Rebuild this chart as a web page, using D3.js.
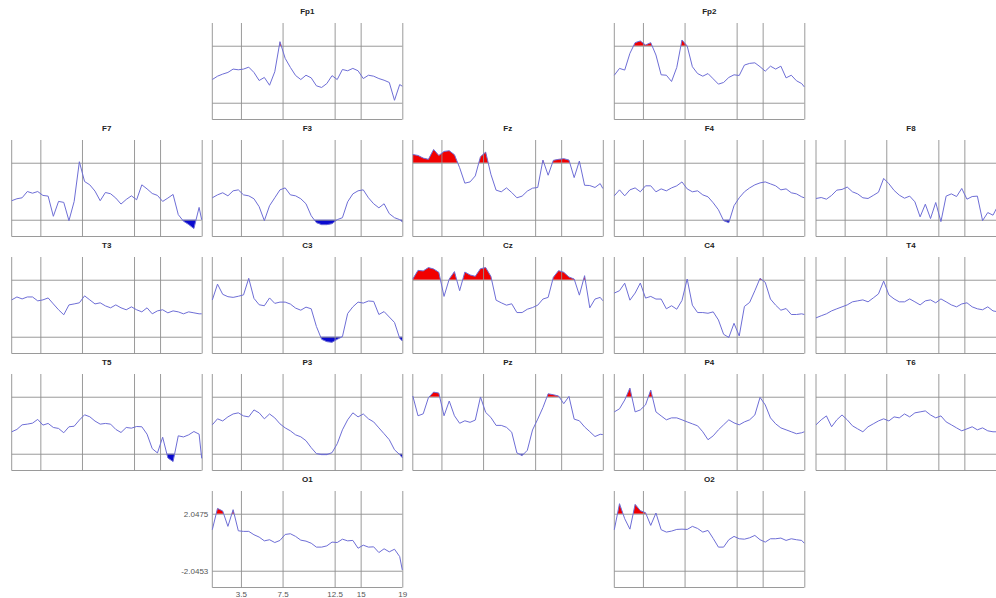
<!DOCTYPE html>
<html>
<head>
<meta charset="utf-8">
<script src="https://cdn.jsdelivr.net/npm/d3@7"></script>
<style>
  body { margin: 0; background: #fff; overflow: hidden; }
  svg { display: block; }
</style>
</head>
<body>
<script>
(function () {
    // frequency bins (Hz) shared by every channel
    var freqs = [0.75, 1.25, 1.75, 2.25, 2.75, 3.25, 3.75, 4.25, 4.75, 5.25, 5.75, 6.25, 6.75,
        7.25, 7.75, 8.25, 8.75, 9.25, 9.75, 10.25, 10.75, 11.25, 11.75, 12.25, 12.75, 13.25,
        13.75, 14.25, 14.75, 15.25, 15.75, 16.25, 16.75, 17.25, 17.75, 18.25, 18.75, 19];

    var xTicks = [3.5, 7.5, 12.5, 15, 19];
    var xTickLabels = ["3.5", "7.5", "12.5", "15", "19"];
    var thresholds = [2.0475, -2.0453];
    var thresholdLabels = ["2.0475", "-2.0453"];

    var fp1 = [-0.38, -0.14, 0.01, 0.13, 0.37, 0.32, 0.37, 0.51, 0.13, -0.45, -0.23, -0.79, 0.18, 2.34, 1.14, 0.49, -0.09, -0.38, -0.07, -0.26, -0.83, -0.95, -0.67, -0.10, -0.38, 0.34, 0.25, 0.42, 0.25, -0.31, -0.07, -0.14, -0.31, -0.43, -0.59, -1.87, -0.74, -0.86];
    var fp2 = [-0.07, 0.42, 0.30, 1.50, 2.27, 2.39, 2.10, 2.27, 1.38, -0.04, -0.07, -0.52, 0.49, 2.46, 2.03, 0.54, 0.05, -0.14, 0.05, -0.33, -0.71, -0.59, -0.23, -0.04, -0.09, 0.66, 0.78, 0.82, 0.54, 0.22, 0.58, 0.37, 0.58, -0.26, -0.07, -0.47, -0.67, -0.91];
    var f7 = [-0.68, -0.54, -0.47, -0.02, -0.14, -0.02, -0.30, -0.35, -1.80, -0.73, -0.80, -2.11, -0.73, 2.12, 0.70, 0.46, 0.01, -0.68, -0.09, -0.18, -0.49, -0.92, -0.59, -0.33, -0.61, 0.46, 0.17, -0.16, -0.30, -0.73, -0.49, -0.23, -1.68, -2.15, -2.39, -2.68, -1.16, -2.05];
    var f3 = [-0.47, -0.26, -0.11, -0.33, 0.03, 0.10, -0.26, -0.33, -0.54, -1.11, -2.11, -1.04, -0.47, 0.10, 0.24, -0.26, -0.33, -0.54, -0.90, -1.76, -2.26, -2.40, -2.40, -2.33, -2.04, -1.90, -0.76, -0.19, 0.03, 0.10, -0.47, -0.90, -1.19, -0.90, -1.61, -1.90, -2.04, -2.19];
    var fz = [2.64, 2.57, 2.38, 2.29, 3.00, 2.57, 2.86, 2.91, 2.62, 1.69, 0.58, 0.67, 1.10, 2.48, 2.81, 1.22, 0.08, -0.04, 0.24, -0.09, -0.47, -0.35, 0.01, 0.22, 0.27, 2.24, 1.15, 2.22, 2.29, 2.34, 2.24, 0.98, 2.17, 0.43, 0.41, 0.27, 0.55, 0.20];
    var f4 = [-0.33, 0.10, -0.33, 0.10, 0.24, -0.04, 0.39, 0.39, -0.04, 0.17, 0.03, 0.24, 0.39, 0.67, 0.17, -0.04, 0.03, -0.26, -0.40, -0.83, -1.33, -2.11, -2.26, -1.04, -0.47, -0.04, 0.24, 0.46, 0.60, 0.67, 0.53, 0.39, 0.10, 0.17, -0.11, -0.19, -0.40, -0.47];
    var f8 = [-0.52, -0.45, -0.57, -0.30, 0.08, 0.13, 0.30, -0.04, -0.19, -0.47, -0.52, -0.30, -0.07, 0.92, 0.54, 0.06, -0.28, -0.50, -0.35, -0.76, -1.84, -0.93, -1.96, -0.81, -2.18, -0.35, -0.19, -0.38, 0.20, -0.57, -0.38, -0.35, -2.11, -1.53, -1.72, -1.00, -0.80, -0.90];
    var t3 = [0.60, 0.81, 0.67, 0.81, 0.81, 0.53, 0.60, 0.74, 0.31, -0.11, -0.47, 0.24, 0.31, 0.39, 0.89, 0.60, 0.31, 0.39, 0.17, 0.03, 0.24, 0.03, -0.11, 0.10, -0.11, -0.26, 0.03, -0.40, -0.19, -0.11, -0.33, -0.19, -0.26, -0.40, -0.26, -0.33, -0.40, -0.40];
    var c3 = [0.59, 1.73, 1.00, 0.83, 0.78, 0.86, 0.96, 2.15, 0.71, 0.25, 0.18, 0.74, 0.35, 0.44, 0.44, 0.30, 0.01, -0.14, 0.08, -0.04, -1.31, -2.23, -2.40, -2.45, -2.23, -2.04, -0.38, 0.10, 0.44, 0.37, 0.52, 0.49, -0.45, -0.24, -0.63, -1.02, -2.16, -2.35];
    var cz = [2.10, 2.72, 2.68, 2.92, 2.82, 2.58, 0.85, 2.10, 2.63, 1.26, 2.60, 2.39, 2.29, 2.84, 2.92, 2.29, 0.58, 0.39, 0.22, 0.32, -0.31, -0.31, -0.07, 0.05, 0.22, 0.66, 0.78, 2.22, 2.70, 2.58, 2.24, 2.10, 0.94, 2.34, 0.03, 0.66, 0.78, 0.54];
    var c4 = [1.09, 1.26, 1.80, 0.58, 1.09, 1.81, 0.73, 0.85, 0.66, 0.66, -0.04, 0.18, -0.07, 0.56, 2.10, 0.22, -0.31, -0.31, -0.36, -0.26, -0.84, -1.87, -2.10, -1.08, -1.99, 0.13, 0.42, 1.26, 2.15, 1.86, 0.66, 0.22, -0.14, -0.02, -0.45, -0.45, -0.40, -0.45];
    var t4 = [-0.69, -0.54, -0.40, -0.19, -0.04, 0.10, 0.24, 0.46, 0.53, 0.60, 0.46, 0.74, 1.03, 1.95, 0.96, 0.67, 0.46, 0.46, 0.67, 0.46, 0.24, 0.53, 0.60, 0.39, 0.67, 0.46, 0.24, 0.10, 0.31, 0.39, 0.10, -0.04, -0.11, 0.10, -0.19, -0.26, -0.26, -0.33];
    var t5 = [-0.47, -0.30, 0.03, 0.08, 0.15, 0.42, 0.01, 0.13, -0.16, -0.23, -0.54, -0.11, -0.07, 0.37, 0.75, 0.61, 0.30, 0.08, 0.13, 0.08, -0.30, -0.52, -0.16, -0.21, -0.09, -0.11, -0.64, -1.68, -1.99, -0.86, -2.35, -2.61, -0.76, -0.84, -0.69, -0.45, -0.64, -2.38];
    var p3 = [0.03, 0.46, 0.31, 0.60, 0.81, 0.89, 0.67, 0.60, 1.10, 0.89, 0.46, 0.81, 0.53, 0.10, -0.19, -0.40, -0.69, -0.83, -1.11, -1.61, -2.04, -2.11, -2.11, -1.97, -1.33, -0.33, 0.39, 0.89, 0.60, 0.81, 0.46, 0.24, -0.19, -0.61, -1.04, -1.76, -2.11, -2.33];
    var pz = [2.10, 0.68, 0.82, 1.98, 2.38, 2.31, 0.68, 1.74, 0.68, 0.14, 0.32, 0.21, 0.37, 2.03, 0.92, 0.56, -0.01, -0.01, -0.15, -0.50, -1.99, -2.18, -1.80, -0.34, 0.44, 1.27, 2.26, 2.19, 2.10, 1.55, 2.07, 0.44, 0.32, -0.12, -0.46, -0.81, -0.65, -0.67];
    var p4 = [0.96, 1.18, 1.81, 2.67, 0.96, 1.10, 1.46, 2.53, 0.96, 0.67, 0.39, 0.53, 0.53, 0.39, 0.24, 0.10, -0.04, -0.47, -1.04, -0.76, -0.33, 0.03, 0.39, 0.17, 0.03, 0.24, 0.39, 0.74, 2.00, 1.46, 0.53, 0.10, -0.19, -0.33, -0.47, -0.61, -0.54, -0.47];
    var t6 = [0.03, 0.39, 0.67, -0.11, 0.39, 0.74, 0.39, -0.04, -0.26, -0.47, -0.11, 0.10, 0.31, 0.46, 0.31, 0.60, 0.53, 0.81, 0.60, 0.89, 0.96, 1.03, 0.74, 0.53, 0.67, 0.24, 0.03, -0.19, -0.40, -0.26, -0.11, -0.33, -0.19, -0.40, -0.47, -0.47, -0.40, -0.47];
    var o1 = [0.90, 2.43, 2.24, 1.14, 2.34, 0.82, 0.78, 0.78, 0.54, 0.37, 0.10, 0.18, -0.02, 0.13, 0.56, 0.61, 0.42, 0.15, 0.08, -0.07, -0.35, -0.35, -0.26, 0.01, -0.02, 0.22, 0.10, 0.13, -0.43, -0.21, -0.35, -0.33, -0.74, -0.47, -0.69, -0.50, -1.03, -1.99];
    var o2 = [0.90, 2.77, 1.69, 0.94, 2.72, 2.27, 2.12, 1.21, 2.10, 0.90, 0.73, 0.80, 0.92, 0.94, 0.92, 1.14, 0.99, 0.73, 0.85, 0.27, -0.35, -0.35, 0.18, 0.42, 0.25, 0.22, 0.32, 0.49, 0.18, 0.01, 0.25, 0.25, 0.30, 0.13, 0.25, 0.18, 0.13, -0.07];

    var channelNames = ["Fp1", "Fp2", "F7", "F3", "Fz", "F4", "F8", "T3", "C3", "Cz", "C4", "T4",
        "T5", "P3", "Pz", "P4", "T6", "O1", "O2"];
    var channelValues = [fp1, fp2, f7, f3, fz, f4, f8, t3, c3, cz, c4, t4, t5, p3, pz, p4, t6, o1, o2];

    // where each channel sits on the 5 x 5 scalp grid [col, row]
    var gridCells = [[1, 0], [3, 0], [0, 1], [1, 1], [2, 1], [3, 1], [4, 1], [0, 2], [1, 2], [2, 2],
        [3, 2], [4, 2], [0, 3], [1, 3], [2, 3], [3, 3], [4, 3], [1, 4], [3, 4]];
    var labelledChannel = "O1";

    var width = 996,
        height = 598,
        panelW = 190,
        panelH = 96.5,
        colX = [11.7, 212.3, 412.8, 614.3, 816],
        rowY = [23, 140, 257, 374, 491];

    var gridColor = "#8f8f8f",
        lineColor = "#6e6ed6",
        upColor = "#f20000",
        downColor = "#0a0ad0";

    var svg = d3.select("body")
        .append("svg")
        .attr("width", width)
        .attr("height", height)
        .style("font-family", "'Liberation Sans', Arial, sans-serif");

    var x = d3.scaleLinear()
        .domain([0.75, 19])
        .range([0, panelW]);

    var y = d3.scaleLinear()
        .domain([-3.25, 3.68])
        .range([panelH, 0]);

    var line = d3.line()
        .x(function (d, i) { return x(freqs[i]); })
        .y(function (d) { return y(d); });

    // outline of the part of a trace beyond a threshold, cut where the trace crosses it
    function beyond(values, thr, above) {
        var pts = [];
        values.forEach(function (v, i) {
            var out = above ? v > thr : v < thr;
            pts.push([freqs[i], out ? v : thr]);
            if (i < values.length - 1) {
                var w = values[i + 1];
                if ((v - thr) * (w - thr) < 0) {
                    var t = (thr - v) / (w - v);
                    pts.push([freqs[i] + t * (freqs[i + 1] - freqs[i]), thr]);
                }
            }
        });
        return pts;
    }

    channelNames.forEach(function (name, k) {
        var cell = gridCells[k],
            values = channelValues[k],
            showLabels = name === labelledChannel;

        var g = svg.append("g")
            .attr("transform", "translate(" + colX[cell[0]] + "," + rowY[cell[1]] + ")");

        // threshold exceedances
        thresholds.forEach(function (thr, j) {
            var area = d3.area()
                .x(function (d) { return x(d[0]); })
                .y0(y(thr))
                .y1(function (d) { return y(d[1]); });
            g.append("path")
                .datum(beyond(values, thr, j === 0))
                .attr("d", area)
                .attr("fill", j === 0 ? upColor : downColor);
        });

        // vertical grid from the x axis
        var xAxis = d3.axisBottom(x)
            .tickValues(xTicks)
            .tickSize(-panelH)
            .tickPadding(2)
            .tickFormat(function (d, i) { return showLabels ? xTickLabels[i] : ""; });

        var xg = g.append("g")
            .attr("transform", "translate(0," + panelH + ")")
            .call(xAxis);
        xg.select(".domain").remove();
        xg.selectAll("line").attr("stroke", gridColor).attr("stroke-width", 0.9);
        xg.selectAll("text").attr("fill", "#555").style("font-size", "8px").attr("dy", "0.95em");

        // horizontal grid at the thresholds from the y axis
        var yAxis = d3.axisLeft(y)
            .tickValues(thresholds)
            .tickSize(-panelW)
            .tickPadding(4)
            .tickFormat(function (d, i) { return showLabels ? thresholdLabels[i] : ""; });

        var yg = g.append("g").call(yAxis);
        yg.select(".domain").remove();
        yg.selectAll("line").attr("stroke", gridColor).attr("stroke-width", 0.9);
        yg.selectAll("text").attr("fill", "#555").style("font-size", "8px");

        // left and bottom axis lines
        g.append("line")
            .attr("x1", x(0.75)).attr("x2", x(0.75))
            .attr("y1", 0).attr("y2", panelH)
            .attr("stroke", gridColor).attr("stroke-width", 0.9);
        g.append("line")
            .attr("x1", x(0.75)).attr("x2", x(19))
            .attr("y1", panelH).attr("y2", panelH)
            .attr("stroke", gridColor).attr("stroke-width", 0.9);

        g.append("path")
            .datum(values)
            .attr("d", line)
            .attr("fill", "none")
            .attr("stroke", lineColor)
            .attr("stroke-width", 1);

        g.append("text")
            .attr("x", panelW / 2)
            .attr("y", -9)
            .attr("text-anchor", "middle")
            .style("font-size", "8px")
            .style("font-weight", "bold")
            .attr("fill", "#222")
            .text(name);
    });
})();
</script>
</body>
</html>
